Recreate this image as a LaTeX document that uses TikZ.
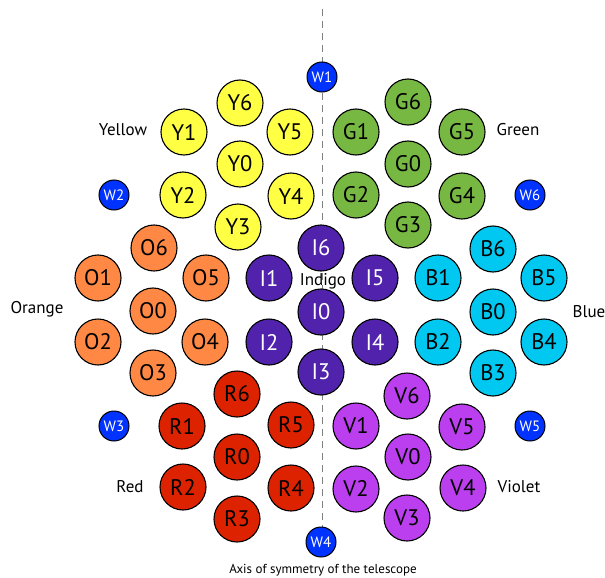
\documentclass[tikz,border=0pt]{standalone}
\usepackage{fontspec}
\setmainfont{PT Sans}
\begin{document}
\begin{tikzpicture}[x=1pt,y=-1pt,
  disc/.style={circle,draw=black,line width=1.1pt,minimum size=46pt,inner sep=0pt,
    font=\fontsize{22.5}{22.5}\selectfont},
  wdisc/.style={circle,draw=black,line width=1pt,minimum size=30pt,inner sep=0pt,fill=wblue,
    text=white,font=\fontsize{15}{15}\selectfont},
  grouplabel/.style={font=\fontsize{17}{17}\selectfont,inner sep=0pt},
  axislabel/.style={font=\fontsize{13}{13}\selectfont,inner sep=0pt}]
\definecolor{cyel}{HTML}{FFFF44}
\definecolor{cgrn}{HTML}{77B843}
\definecolor{corg}{HTML}{FF8844}
\definecolor{cind}{HTML}{5123AC}
\definecolor{cblu}{HTML}{00C8F0}
\definecolor{cred}{HTML}{DD2200}
\definecolor{cvio}{HTML}{BB3FEE}
\definecolor{wblue}{HTML}{0033FF}
\path[use as bounding box] (0,0) rectangle (605,578);
\coordinate (axtop) at (322,9);
\coordinate (axbot) at (322,560);
\draw[gray,line width=1pt,dash pattern=on 7pt off 5pt] (axtop) -- (axbot);
% Yellow
\foreach \n/\x/\y in {Y6/240/103,Y1/184/132,Y5/290/132,Y0/240/164,Y2/183/195,Y4/291/196,Y3/238/227}
  \node[disc,fill=cyel] (\n) at (\x,\y) {\n};
% Green
\foreach \n/\x/\y in {G6/408/102,G1/356/132,G5/462/132,G0/408/164,G2/356/195,G4/462/196,G3/408/225}
  \node[disc,fill=cgrn] (\n) at (\x,\y) {\n};
% Orange
\foreach \n/\x/\y in {O6/154/248,O1/98/278,O5/206/278,O0/153/311,O2/98/342,O4/205/342,O3/153/373}
  \node[disc,fill=corg] (\n) at (\x,\y) {\n};
% Indigo
\foreach \n/\x/\y in {I6/321/248,I1/269/278,I5/375/278,I0/321/312,I2/269/342,I4/375/342,I3/321/372}
  \node[disc,fill=cind,text=white] (\n) at (\x,\y) {\n};
% Blue
\foreach \n/\x/\y in {B6/493/249,B1/438/278,B5/544/278,B0/493/312,B2/438/342,B4/544/342,B3/493/373}
  \node[disc,fill=cblu] (\n) at (\x,\y) {\n};
% Red
\foreach \n/\x/\y in {R6/237/394,R1/182/426,R5/291/425,R0/237/457,R2/183/487,R4/291/488,R3/237/519}
  \node[disc,fill=cred] (\n) at (\x,\y) {\n};
% Violet
\foreach \n/\x/\y in {V6/407/396,V1/356/426,V5/462/427,V0/408/457,V2/356/489,V4/463/488,V3/407/518}
  \node[disc,fill=cvio] (\n) at (\x,\y) {\n};
% White (outer) discs
\foreach \n/\x/\y in {W1/322/77,W2/114/195,W6/530/195,W3/114/426,W5/530/426,W4/321/542}
  \node[wdisc] (\n) at (\x,\y) {\n};
% Labels
\node[grouplabel] (lyel) at (123,130) {Yellow};
\node[grouplabel] (lgrn) at (518,130) {Green};
\node[grouplabel] (lind) at (323,281) {Indigo};
\node[grouplabel] (lorg) at (37,309) {Orange};
\node[grouplabel] (lblu) at (589,312) {Blue};
\node[grouplabel] (lred) at (130,487) {Red};
\node[grouplabel] (lvio) at (519,487) {Violet};
\node[axislabel] (laxis) at (323,570) {Axis of symmetry of the telescope};
\end{tikzpicture}
\end{document}
